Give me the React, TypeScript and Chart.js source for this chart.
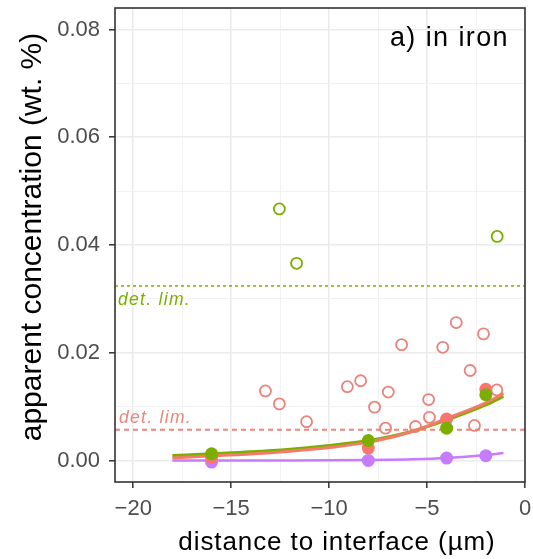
import React, { useEffect, useRef } from 'react';
import { Chart, registerables } from 'chart.js';
Chart.register(...registerables);

// axis limits and ticks
const xLimits = [-20.93, 0];
const yLimits = [-0.004, 0.084];
const xTickValues = [-20, -17.5, -15, -12.5, -10, -7.5, -5, -2.5, 0];
const yTickValues = [0, 0.01, 0.02, 0.03, 0.04, 0.05, 0.06, 0.07, 0.08];

// raw measurements (open circles)
const greenRawX = [-12.54, -11.66, -1.42];
const greenRawY = [0.0467, 0.0366, 0.0416];
const redRawX = [-13.25, -12.54, -11.15, -9.07, -8.39, -7.68, -6.98, -7.12, -6.3, -5.59, -4.92, -4.88, -4.2, -3.51, -2.12, -2.8, -2.58, -1.44];
const redRawY = [0.0129, 0.0105, 0.0072, 0.0137, 0.0148, 0.0099, 0.0127, 0.006, 0.0215, 0.0063, 0.0113, 0.008, 0.021, 0.0256, 0.0235, 0.0167, 0.0065, 0.0131];

// means (filled points)
const meanX = [-16, -8, -4, -2];
const greenMeanY = [0.00124, 0.0037, 0.006, 0.0122];
const redMeanY = [0.0006, 0.0023, 0.0077, 0.0132];
const redErrLow = [0.0003, 0.0018, 0.0067, 0.012];
const redErrHigh = [0.0009, 0.0028, 0.0087, 0.0144];
const purpleMeanY = [-0.0003, 0.0, 0.00044, 0.00087];

// fitted curves
const fitX = [-18, -16, -14, -12, -10, -8, -6, -4, -2, -1.1];
const greenFitY = [0.0009, 0.00124, 0.0016, 0.0021, 0.0028, 0.0037, 0.0052, 0.0075, 0.0103, 0.0119];
const redFitY = [0.00045, 0.00087, 0.0012, 0.0017, 0.0024, 0.0034, 0.0051, 0.0078, 0.0107, 0.0124];
const purpleFitY = [0.0, 0.0, 0.0, 0.0, 0.00002, 0.00008, 0.0002, 0.00045, 0.001, 0.00137];

// detection limits
const greenDetLim = 0.0324;
const redDetLim = 0.0057;

const GREEN = '#7CAE00';
const RED = '#F8766D';
const PURPLE = '#C77CFF';
const FONT = "'Liberation Sans', Arial, Helvetica, sans-serif";

const pts = (xs: number[], ys: number[]) => xs.map((x, i) => ({ x, y: ys[i] }));
const isMult = (v: number, step: number) => Math.abs(v / step - Math.round(v / step)) < 1e-6;
const zeroPad = (s: any) => { s.paddingTop = 0; s.paddingBottom = 0; s.paddingLeft = 0; s.paddingRight = 0; };

export default function App() {
  const ref = useRef<HTMLCanvasElement>(null);
  useEffect(() => {
    if (!ref.current) return;
    const errData: any[] = [];
    meanX.forEach((x, i) => {
      errData.push({ x, y: redErrLow[i] }, { x, y: redErrHigh[i] }, { x, y: null });
    });

    const overlay = {
      id: 'overlay',
      afterDraw(chart: any) {
        const { ctx, chartArea: a, scales } = chart;
        const ys = scales.y;
        ctx.save();
        // panel border
        ctx.strokeStyle = '#333333';
        ctx.lineWidth = 1.6;
        ctx.strokeRect(a.left, a.top, a.right - a.left, a.bottom - a.top);
        // panel label
        ctx.fillStyle = '#000';
        ctx.font = `27px ${FONT}`;
        (ctx as any).letterSpacing = '1.4px';
        ctx.textAlign = 'right';
        ctx.textBaseline = 'alphabetic';
        ctx.fillText('a) in iron', a.right - 16, a.top + 38);
        // det lim labels
        ctx.font = `italic 17.5px ${FONT}`;
        (ctx as any).letterSpacing = '1.3px';
        ctx.textAlign = 'left';
        ctx.fillStyle = GREEN;
        ctx.fillText('det. lim.', a.left + 3, ys.getPixelForValue(greenDetLim) + 19);
        ctx.fillStyle = 'rgba(232,120,110,0.9)';
        ctx.fillText('det. lim.', a.left + 4, ys.getPixelForValue(redDetLim) - 7);
        // axis titles
        ctx.fillStyle = '#000';
        ctx.font = `26px ${FONT}`;
        (ctx as any).letterSpacing = '0.9px';
        ctx.textAlign = 'center';
        ctx.textBaseline = 'middle';
        ctx.fillText('distance to interface (µm)', 337, 543);
        ctx.font = `30px ${FONT}`;
        (ctx as any).letterSpacing = '0px';
        ctx.translate(33, 237);
        ctx.rotate(-Math.PI / 2);
        ctx.fillText('apparent concentration (wt. %)', 0, 0);
        ctx.restore();
      },
    };

    const chart = new Chart(ref.current, {
      type: 'scatter',
      data: {
        datasets: [
          { data: pts(meanX, greenMeanY), backgroundColor: GREEN, borderColor: GREEN, pointRadius: 6.5, borderWidth: 0, order: 1 } as any,
          { data: pts(meanX, redMeanY), backgroundColor: RED, borderColor: RED, pointRadius: 6.5, borderWidth: 0, order: 2 },
          { data: errData, showLine: true, spanGaps: false, borderColor: RED, borderWidth: 2.5, pointRadius: 0, order: 3 },
          { data: pts(meanX, purpleMeanY), backgroundColor: PURPLE, borderColor: PURPLE, pointRadius: 6.5, borderWidth: 0, order: 3 },
          { data: pts(fitX, greenFitY), showLine: true, borderColor: GREEN, borderWidth: 3, pointRadius: 0, cubicInterpolationMode: 'monotone', order: 5 },
          { data: pts(fitX, redFitY), showLine: true, borderColor: '#F27C68', borderWidth: 3, pointRadius: 0, cubicInterpolationMode: 'monotone', order: 4 },
          { data: pts(fitX, purpleFitY), showLine: true, borderColor: PURPLE, borderWidth: 2.5, pointRadius: 0, cubicInterpolationMode: 'monotone', order: 6 },
          { data: pts(redRawX, redRawY), backgroundColor: 'rgba(0,0,0,0)', borderColor: '#E9837B', pointRadius: 5.5, borderWidth: 1.8, order: 7 },
          { data: pts(greenRawX, greenRawY), backgroundColor: 'rgba(0,0,0,0)', borderColor: GREEN, pointRadius: 5.5, borderWidth: 1.8, order: 8 },
          { data: pts(xLimits, [greenDetLim, greenDetLim]), showLine: true, borderColor: GREEN, borderWidth: 1.5, borderDash: [3, 3], pointRadius: 0, order: 9 },
          { data: pts(xLimits, [redDetLim, redDetLim]), showLine: true, borderColor: 'rgba(240,120,110,0.9)', borderWidth: 2, borderDash: [5, 4], pointRadius: 0, order: 10 },
        ],
      },
      options: {
        responsive: false,
        animation: false,
        devicePixelRatio: 1,
        layout: { padding: { left: 0, right: 8, top: 8, bottom: 0 } },
        plugins: { legend: { display: false }, tooltip: { enabled: false } },
        scales: {
          x: {
            type: 'linear',
            min: xLimits[0],
            max: xLimits[1],
            afterBuildTicks: (s: any) => { s.ticks = xTickValues.map((v) => ({ value: v })); },
            afterFit: (s: any) => { s.height = 77; zeroPad(s); },
            border: { display: false },
            grid: {
              color: (c: any) => (c.tick && isMult(c.tick.value, 5) ? '#EBEBEB' : '#F0F0F0'),
              lineWidth: (c: any) => (c.tick && isMult(c.tick.value, 5) ? 1.6 : 0.9),
              tickColor: (c: any) => (c.tick && isMult(c.tick.value, 5) ? '#333333' : 'rgba(0,0,0,0)'),
              tickWidth: 1.5,
              tickLength: 6,
            },
            ticks: {
              autoSkip: false,
              maxRotation: 0,
              padding: 8,
              color: '#4D4D4D',
              font: { family: FONT, size: 22 },
              callback: (v: any) => (isMult(v, 5) ? (v < 0 ? '\u2212' + Math.abs(v) : '0') : ''),
            },
          },
          y: {
            type: 'linear',
            min: yLimits[0],
            max: yLimits[1],
            afterBuildTicks: (s: any) => { s.ticks = yTickValues.map((v) => ({ value: v })); },
            afterFit: (s: any) => { s.width = 115; zeroPad(s); },
            border: { display: false },
            grid: {
              color: (c: any) => (c.tick && isMult(c.tick.value, 0.02) ? '#EBEBEB' : '#F0F0F0'),
              lineWidth: (c: any) => (c.tick && isMult(c.tick.value, 0.02) ? 1.6 : 0.9),
              tickColor: (c: any) => (c.tick && isMult(c.tick.value, 0.02) ? '#333333' : 'rgba(0,0,0,0)'),
              tickWidth: 1.5,
              tickLength: 6,
            },
            ticks: {
              autoSkip: false,
              padding: 9,
              color: '#4D4D4D',
              font: { family: FONT, size: 22 },
              callback: (v: any) => (isMult(v, 0.02) ? Number(v).toFixed(2) : ''),
            },
          },
        },
      },
      plugins: [overlay],
    });
    return () => chart.destroy();
  }, []);

  return (
    <div style={{ position: 'absolute', left: 0, top: 0, width: 533, height: 559, background: '#fff' }}>
      <canvas ref={ref} width={533} height={559} style={{ display: 'block' }} />
    </div>
  );
}
